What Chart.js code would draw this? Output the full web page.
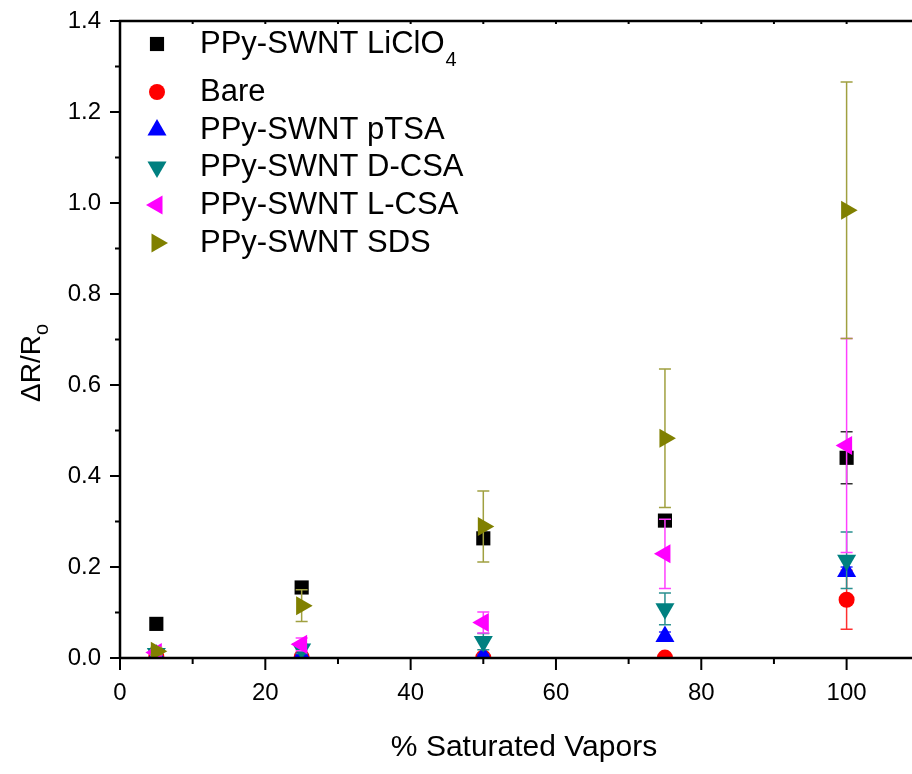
<!DOCTYPE html>
<html lang="en">
  <head>
    <meta charset="UTF-8" />
    <title>Delta R / Ro vs % Saturated Vapors</title>
    <style>
      html, body { margin: 0; padding: 0; background: #fff; }
      #wrap { width: 912px; height: 774px; }
    </style>
  </head>
  <body>
    <div id="wrap"><canvas id="myChart" width="912" height="774"></canvas></div>

    <script src="https://cdn.jsdelivr.net/npm/chart.js"></script>
    <script>
      // x positions (% saturated vapors)
      const vapors = [5, 25, 50, 75, 100];

      // series values (dR/Ro) and their error bars
      const liclo4 = [0.075, 0.155, 0.263, 0.302, 0.44];
      const liclo4Err = [0.004, 0.006, 0.01, 0.006, 0.057];
      const bare = [0.003, 0.002, 0.001, 0.001, 0.128];
      const bareErr = [0.002, 0.002, 0.002, 0.002, 0.065];
      const ptsa = [0.006, 0.006, 0.004, 0.047, 0.19];
      const ptsaErr = [0.004, 0.004, 0.004, 0.01, 0.01];
      const dcsa = [0.01, 0.02, 0.036, 0.108, 0.215];
      const dcsaErr = [0.006, 0.01, 0.018, 0.035, 0.062];
      const lcsa = [0.012, 0.03, 0.078, 0.229, 0.467];
      const lcsaErr = [0.006, 0.014, 0.023, 0.076, 0.235];
      const sds = [0.015, 0.115, 0.289, 0.483, 0.984];
      const sdsErr = [0.008, 0.035, 0.078, 0.152, 0.282];

      const names = ["PPy-SWNT LiClO", "Bare", "PPy-SWNT pTSA", "PPy-SWNT D-CSA", "PPy-SWNT L-CSA", "PPy-SWNT SDS"];
      const values = [liclo4, bare, ptsa, dcsa, lcsa, sds];
      const errors = [liclo4Err, bareErr, ptsaErr, dcsaErr, lcsaErr, sdsErr];
      const colors = ["#000000", "#ff0000", "#0000ff", "#008080", "#ff00ff", "#808000"];
      const errColors = ["#333333", "#ff3030", "#3030ff", "#2a9090", "#ff40ff", "#a0a040"];
      const styles = ["rect", "circle", "triangle", "triangle", "triangle", "triangle"];
      const rotations = [0, 0, 0, 180, -90, 90];
      const radii = [10, 8, 11, 11, 11, 11];

      const FONT = "'Liberation Sans', Arial, sans-serif";

      const datasets = names.map((n, i) => ({
        label: n,
        data: vapors.map((x, j) => ({ x: x, y: values[i][j] })),
        errs: errors[i],
        errColor: errColors[i],
        backgroundColor: colors[i],
        borderColor: colors[i],
        borderWidth: 0,
        pointStyle: styles[i],
        rotation: rotations[i],
        pointRadius: radii[i],
        pointHoverRadius: radii[i],
        showLine: false,
        order: names.length - i,
      }));

      // simple marker drawing for the legend (same geometry as chart.js points)
      function marker(ctx, style, rot, r, x, y, color) {
        ctx.save();
        ctx.fillStyle = color;
        ctx.beginPath();
        if (style === "rect") {
          const s = Math.SQRT1_2 * r;
          ctx.rect(x - s, y - s, 2 * s, 2 * s);
        } else if (style === "circle") {
          ctx.arc(x, y, r, 0, Math.PI * 2);
        } else {
          let a = rot * Math.PI / 180;
          ctx.moveTo(x + Math.sin(a) * r, y - Math.cos(a) * r);
          a += 2 * Math.PI / 3;
          ctx.lineTo(x + Math.sin(a) * r, y - Math.cos(a) * r);
          a += 2 * Math.PI / 3;
          ctx.lineTo(x + Math.sin(a) * r, y - Math.cos(a) * r);
          ctx.closePath();
        }
        ctx.fill();
        ctx.restore();
      }

      const errorBars = {
        id: "errorBars",
        beforeDatasetDraw(chart, args) {
          const ds = chart.data.datasets[args.index];
          const { ctx, chartArea, scales } = chart;
          ctx.save();
          ctx.beginPath();
          ctx.rect(chartArea.left, chartArea.top, chartArea.right - chartArea.left, chartArea.bottom - chartArea.top);
          ctx.clip();
          ctx.strokeStyle = ds.errColor;
          ctx.lineWidth = 1.5;
          ds.data.forEach((p, j) => {
            const e = ds.errs[j];
            const px = scales.x.getPixelForValue(p.x);
            const top = scales.y.getPixelForValue(p.y + e);
            const bot = scales.y.getPixelForValue(p.y - e);
            ctx.beginPath();
            ctx.moveTo(px, top);
            ctx.lineTo(px, bot);
            ctx.moveTo(px - 6, top);
            ctx.lineTo(px + 6, top);
            ctx.moveTo(px - 6, bot);
            ctx.lineTo(px + 6, bot);
            ctx.stroke();
          });
          ctx.restore();
        },
      };

      const frame = {
        id: "frame",
        afterDraw(chart) {
          const { ctx, chartArea, scales } = chart;
          const x = scales.x, y = scales.y;
          ctx.save();
          ctx.strokeStyle = "#000";
          ctx.lineWidth = 2.5;
          ctx.beginPath();
          ctx.moveTo(chartArea.left, chartArea.top);
          ctx.lineTo(chartArea.left, chartArea.bottom);
          ctx.moveTo(chartArea.left - 1, chartArea.bottom);
          ctx.lineTo(chartArea.right, chartArea.bottom);
          ctx.moveTo(chartArea.left - 1, chartArea.top);
          ctx.lineTo(chartArea.right, chartArea.top);
          ctx.stroke();

          ctx.lineWidth = 2;
          ctx.beginPath();
          for (let v = 0; v <= 14; v++) {
            const py = y.getPixelForValue(v / 10);
            const len = v % 2 === 0 ? 10 : 5;
            ctx.moveTo(chartArea.left, py);
            ctx.lineTo(chartArea.left - len, py);
          }
          for (let v = 0; v <= 100; v += 10) {
            const px = x.getPixelForValue(v);
            const len = v % 20 === 0 ? 12 : 6;
            ctx.moveTo(px, chartArea.bottom);
            ctx.lineTo(px, chartArea.bottom + len);
            ctx.moveTo(px, chartArea.top);
            ctx.lineTo(px, chartArea.top + 3);
          }
          ctx.stroke();

          // axis titles
          ctx.fillStyle = "#000";
          ctx.font = "30px " + FONT;
          ctx.textAlign = "center";
          ctx.textBaseline = "alphabetic";
          ctx.fillText("% Saturated Vapors", 524, 756);

          ctx.save();
          ctx.translate(40, 363);
          ctx.rotate(-Math.PI / 2);
          ctx.textAlign = "left";
          ctx.font = "28px " + FONT;
          const main = "\u0394R/R";
          const w = ctx.measureText(main).width;
          ctx.font = "20px " + FONT;
          const ws = ctx.measureText("o").width;
          const start = -(w + ws) / 2;
          ctx.font = "28px " + FONT;
          ctx.fillText(main, start, 0);
          ctx.font = "20px " + FONT;
          ctx.fillText("o", start + w, 8);
          ctx.restore();

          // legend inside the plot
          const rows = [44, 92, 130, 167, 205, 243];
          names.forEach((n, i) => {
            marker(ctx, styles[i], rotations[i], radii[i], 157, rows[i], colors[i]);
            ctx.font = "31px " + FONT;
            ctx.textAlign = "left";
            ctx.textBaseline = "middle";
            ctx.fillText(n, 200, rows[i]);
            if (i === 0) {
              const tw = ctx.measureText(n).width;
              ctx.font = "20px " + FONT;
              ctx.textBaseline = "alphabetic";
              ctx.fillText("4", 200 + tw + 1, 66);
            }
          });
          ctx.restore();
        },
      };

      const ctx = document.getElementById("myChart").getContext("2d");
      new Chart(ctx, {
        type: "scatter",
        data: { datasets: datasets },
        plugins: [errorBars, frame],
        options: {
          responsive: false,
          animation: false,
          layout: { autoPadding: false, padding: { top: 21, right: 0, left: 0, bottom: 0 } },
          plugins: { legend: { display: false }, tooltip: { enabled: false } },
          scales: {
            x: {
              type: "linear",
              min: 0,
              max: 109,
              grid: { display: false },
              border: { display: false },
              ticks: {
                stepSize: 20,
                includeBounds: false,
                color: "#000",
                padding: 13,
                font: { family: FONT, size: 24 },
              },
              afterFit(s) { s.height = 116; s.paddingLeft = 0; s.paddingRight = 0; },
            },
            y: {
              type: "linear",
              min: 0,
              max: 1.4,
              grid: { display: false },
              border: { display: false },
              ticks: {
                stepSize: 0.2,
                color: "#000",
                padding: 11,
                font: { family: FONT, size: 24 },
                callback: (v) => v.toFixed(1),
              },
              afterFit(s) { s.width = 120; s.paddingTop = 0; s.paddingBottom = 0; },
            },
          },
        },
      });
    </script>
  </body>
</html>
